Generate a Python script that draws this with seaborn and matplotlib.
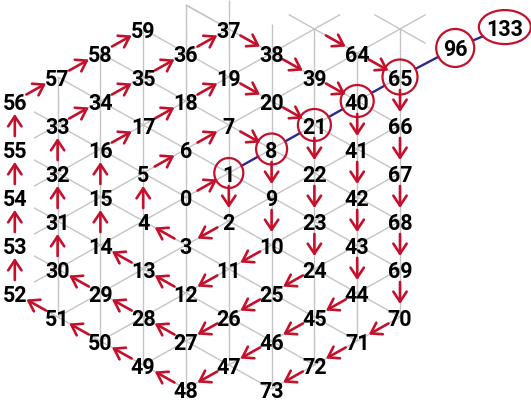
import matplotlib
matplotlib.use("Agg")
import matplotlib.pyplot as plt
import seaborn as sns
import pandas as pd
import numpy as np
from matplotlib.patches import Ellipse
from matplotlib.collections import LineCollection

# spiral numbers 0..73 and their place on the triangular lattice (column, half-row)
numbers = list(range(74))
cols = [0, 1, 1, 0, -1, -1, 0,
        1, 2, 2, 2, 1, 0, -1, -2, -2, -2, -1, 0,
        1, 2, 3, 3, 3, 3, 2, 1, 0, -1, -2, -3, -3, -3, -3, -2, -1, 0,
        1, 2, 3, 4, 4, 4, 4, 4, 3, 2, 1, 0, -1, -2, -3, -4, -4, -4, -4, -4, -3, -2, -1, 0,
        1, 2, 3, 4, 5, 5, 5, 5, 5, 5, 4, 3, 2]
rows = [0, -1, 1, 2, 1, -1, -2,
        -3, -2, 0, 2, 3, 4, 3, 2, 0, -2, -3, -4,
        -5, -4, -3, -1, 1, 3, 4, 5, 6, 5, 4, 3, 1, -1, -3, -4, -5, -6,
        -7, -6, -5, -4, -2, 0, 2, 4, 5, 6, 7, 8, 7, 6, 5, 4, 2, 0, -2, -4, -5, -6, -7, -8,
        -9, -8, -7, -6, -5, -3, -1, 1, 3, 5, 6, 7, 8]
hidden = [60, 61, 62, 63]

# octagonal numbers that get a ring, 96 and 133 sit off the grid
octagonal = [1, 8, 21, 40, 65, 96, 133]
extra_pos = {96: (6.29, -6.21), 133: (7.45, -7.08)}

df = pd.DataFrame({"n": numbers, "c": cols, "r": rows})
df["shown"] = ~df["n"].isin(hidden)

red = "#c5102c"
navy = "#2b2a8e"
grey = "#c4c4c4"

# pixel scale of one lattice step
sx, sy = 42.8, 24.0
W, H = 531, 403
cx, cy = 186, 197

sns.set_theme(style="white")
plt.rcParams["font.family"] = ["Roboto", "DejaVu Sans"]

fig = plt.figure(figsize=(W / 100, H / 100), dpi=100)
ax = fig.add_axes([0, 0, 1, 1])
ax.set_xlim(-cx / sx, (W - cx) / sx)
ax.set_ylim((H - cy) / sy, -cy / sy)
ax.axis("off")


def ring(c, r):
    return max(abs(c), (abs(c) + abs(r)) // 2)


def in_grid(c, r):
    k = ring(c, r)
    return k <= 4 or (k == 5 and c >= 2 and r >= -7) or (c, r) == (5, -7)


# grey triangular grid
segs = []
for c in range(-5, 7):
    for r in range(-10, 11):
        if (c + r) % 2 or not in_grid(c, r):
            continue
        for dc, dr in [(0, 2), (1, 1), (1, -1)]:
            c2, r2 = c + dc, r + dr
            if not in_grid(c2, r2):
                continue
            if c == -4 and c2 == -4:
                continue
            if ring(c, r) == 4 and ring(c2, r2) == 4 and min(c, c2) < 0 and max(r, r2) < 0:
                continue
            if c == -4:
                f = 0.45
                segs.append([(c + f * dc, r + f * dr), (c2, r2)])
            else:
                segs.append([(c, r), (c2, r2)])
# short loose ends along the top edge
for (c, r), (dc, dr) in [((3, -7), (-1, -1)), ((3, -7), (1, -1)),
                         ((5, -7), (-1, -1)), ((5, -7), (1, -1)), ((5, -7), (1, 1)),
                         ((1, -7), (0, -2)), ((2, -6), (0, -2)), ((0, -8), (1, 1))]:
    segs.append([(c, r), (c + 0.6 * dc, r + 0.6 * dr)])
ax.add_collection(LineCollection(segs, colors=grey, linewidths=1.0, zorder=1))

pos = {row.n: (row.c, row.r) for row in df.itertuples()}
pos.update(extra_pos)

ring_w = [29, 31, 33, 33, 35, 38, 52]
ring_h = [30, 31, 32, 32, 35, 38, 34]
half = {k: (w / 2, h / 2) for k, w, h in zip(octagonal, ring_w, ring_h)}


def edge_gap(k, dx, dy):
    # distance (in pixels) from centre to ring edge along (dx, dy)
    a, b = half[k]
    return 1.0 / np.sqrt((dx / a) ** 2 + (dy / b) ** 2)


# navy line linking the rings, stopped at each ring edge
parts = []
for i, (k0, k1) in enumerate(zip(octagonal[:-1], octagonal[1:])):
    (x0, y0), (x1, y1) = pos[k0], pos[k1]
    px, py = (x1 - x0) * sx, (y1 - y0) * sy
    L = np.hypot(px, py)
    ux, uy = px / L, py / L
    g0, g1 = edge_gap(k0, ux, uy), edge_gap(k1, ux, uy)
    parts.append((i, x0 + g0 * ux / sx, y0 + g0 * uy / sy))
    parts.append((i, x1 - g1 * ux / sx, y1 - g1 * uy / sy))
line_df = pd.DataFrame(parts, columns=["seg", "x", "y"])
sns.lineplot(data=line_df, x="x", y="y", units="seg", estimator=None, sort=False,
             color=navy, lw=1.7, ax=ax, zorder=2, legend=False)

for k, w, h in zip(octagonal, ring_w, ring_h):
    ax.add_patch(Ellipse(pos[k], w / sx, h / sy, facecolor="none",
                         edgecolor=red, lw=1.6, zorder=3))

# red arrows from n to n+1
for n in numbers[:-1]:
    if n + 1 in hidden:
        continue
    x0, y0 = pos[n]
    x1, y1 = pos[n + 1]
    a, b = 0.27, 0.73
    ax.annotate("", xy=(x0 + b * (x1 - x0), y0 + b * (y1 - y0)),
                xytext=(x0 + a * (x1 - x0), y0 + a * (y1 - y0)),
                arrowprops=dict(arrowstyle="->,head_length=0.36,head_width=0.24",
                                color=red, lw=1.9, shrinkA=0, shrinkB=0,
                                mutation_scale=20),
                zorder=4)

# number labels
for row in df[df["shown"]].itertuples():
    ax.text(row.c, row.r, str(row.n), ha="center", va="center_baseline",
            fontsize=15.5, fontweight="bold", color="black", zorder=5)
for k in [96, 133]:
    x, y = pos[k]
    ax.text(x, y, str(k), ha="center", va="center_baseline",
            fontsize=15.5, fontweight="bold", color="black", zorder=5)

fig.savefig("out.png", dpi=100)
